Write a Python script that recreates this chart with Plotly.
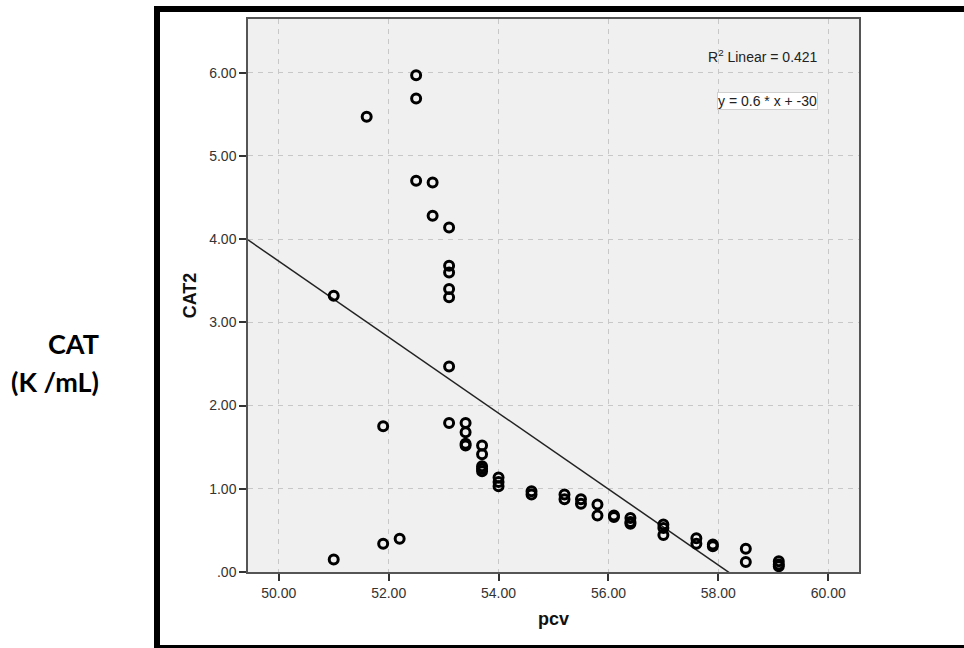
import plotly.graph_objects as go

# ---- data ----
pcv = [52.5, 52.5, 51.6, 52.5, 52.8, 52.8, 53.1, 53.1, 53.1, 53.1, 53.1, 51.0,
       53.1, 51.9, 53.1, 53.4, 53.4, 53.4, 53.4, 53.7, 53.7, 53.7, 53.7, 53.7,
       54.0, 54.0, 54.0, 54.6, 54.6, 55.2, 55.2, 55.5, 55.5, 55.8, 55.8, 56.1,
       56.1, 56.4, 56.4, 56.4, 57.0, 57.0, 57.0, 57.6, 57.6, 57.9, 57.9, 58.5,
       58.5, 59.1, 59.1, 59.1, 51.9, 52.2, 51.0]
cat2 = [5.97, 5.69, 5.47, 4.70, 4.68, 4.28, 4.14, 3.68, 3.60, 3.40, 3.30, 3.32,
        2.47, 1.75, 1.79, 1.79, 1.68, 1.54, 1.52, 1.52, 1.415, 1.27, 1.24, 1.21,
        1.135, 1.08, 1.03, 0.97, 0.93, 0.93, 0.875, 0.875, 0.82, 0.81, 0.68, 0.68,
        0.66, 0.65, 0.60, 0.58, 0.57, 0.53, 0.445, 0.405, 0.34, 0.33, 0.31, 0.28,
        0.12, 0.13, 0.09, 0.07, 0.34, 0.40, 0.15]

fit_intercept = 26.56
fit_slope = -0.4565

x_tickvals = [50, 52, 54, 56, 58, 60]
x_ticktext = ["50.00", "52.00", "54.00", "56.00", "58.00", "60.00"]
y_tickvals = [0, 1, 2, 3, 4, 5, 6]
y_ticktext = [".00", "1.00", "2.00", "3.00", "4.00", "5.00", "6.00"]

x_range = [49.44, 60.56]
y_range = [0, 6.645]

# ---- layout geometry (pixels) ----
W, H = 964, 648
L, R, T, B = 248, 859, 19, 572


def px(x):
    return (x - L) / (R - L)


def py(y):
    return (B - y) / (B - T)


fig = go.Figure()

# fit line through the full x range
fx = [x_range[0], x_range[1]]
fy = [fit_intercept + fit_slope * v for v in fx]
fig.add_trace(go.Scatter(x=fx, y=fy, mode="lines",
                         line=dict(color="#222222", width=1.5),
                         hoverinfo="skip", showlegend=False))

fig.add_trace(go.Scatter(x=pcv, y=cat2, mode="markers",
                         marker=dict(symbol="circle-open", size=9, color="black",
                                     line=dict(width=3, color="black")),
                         showlegend=False))

tickfont = dict(family="Liberation Sans, Arial, sans-serif", size=14, color="#333333")
titlefont = dict(family="Liberation Sans, Arial, sans-serif", size=18, color="#111111")

fig.update_xaxes(range=x_range, tickvals=x_tickvals, ticktext=x_ticktext,
                 tickfont=tickfont, ticks="outside", ticklen=7, tickwidth=1.5,
                 tickcolor="#333333", showline=True, linecolor="#555555",
                 linewidth=1.5, mirror=True, showgrid=True, gridcolor="#c8c8c8",
                 griddash="5px,5px", gridwidth=1, zeroline=False,
                 title=dict(text="<b>pcv</b>", font=titlefont, standoff=13))
fig.update_yaxes(range=y_range, tickvals=y_tickvals, ticktext=y_ticktext,
                 tickfont=tickfont, ticks="outside", ticklen=7, tickwidth=1.5,
                 tickcolor="#333333", showline=True, linecolor="#555555",
                 linewidth=1.5, mirror=True, showgrid=True, gridcolor="#c8c8c8",
                 griddash="5px,5px", gridwidth=1, zeroline=False,
                 title=dict(text="<b>CAT2</b>", font=titlefont, standoff=8))

anns = []
anns.append(dict(xref="paper", yref="paper", x=px(820), y=py(56),
                 xanchor="right", yanchor="middle", showarrow=False,
                 text="R<sup>2</sup> Linear = 0.421",
                 font=dict(family="Liberation Sans, Arial, sans-serif", size=14, color="#222222")))
anns.append(dict(xref="paper", yref="paper", x=px(767), y=py(101.5),
                 xanchor="center", yanchor="middle", showarrow=False,
                 text="y = 0.6 * x + -30", bgcolor="white",
                 bordercolor="#d0d0d0", borderwidth=1, borderpad=0,
                 font=dict(family="Liberation Sans, Arial, sans-serif", size=14, color="#222222")))
labfont = dict(family="Lato, sans-serif", size=27, color="black")
anns.append(dict(xref="paper", yref="paper", x=px(101), y=py(343),
                 xanchor="right", yanchor="middle", showarrow=False,
                 text="<b>CAT</b>", font=labfont))
anns.append(dict(xref="paper", yref="paper", x=px(101), y=py(381),
                 xanchor="right", yanchor="middle", showarrow=False,
                 text="<b>(K /mL)</b>", font=labfont))

shapes = []
# outer black frame: top, left, bottom
shapes.append(dict(type="rect", xref="paper", yref="paper", layer="above",
                   x0=px(154), x1=px(970), y0=py(6), y1=py(12),
                   fillcolor="black", line=dict(width=0)))
shapes.append(dict(type="rect", xref="paper", yref="paper", layer="above",
                   x0=px(154), x1=px(160), y0=py(6), y1=py(652),
                   fillcolor="black", line=dict(width=0)))
shapes.append(dict(type="rect", xref="paper", yref="paper", layer="above",
                   x0=px(154), x1=px(970), y0=py(645), y1=py(652),
                   fillcolor="black", line=dict(width=0)))

fig.update_layout(width=W, height=H,
                  margin=dict(l=L, r=W - R, t=T, b=H - B, pad=0),
                  plot_bgcolor="#f0f0f0", paper_bgcolor="white",
                  annotations=anns, shapes=shapes, showlegend=False)

fig.write_html("out.html", config={"displayModeBar": False},
               post_script="document.body.style.margin='0';document.body.style.padding='0';document.body.style.overflow='hidden';")
